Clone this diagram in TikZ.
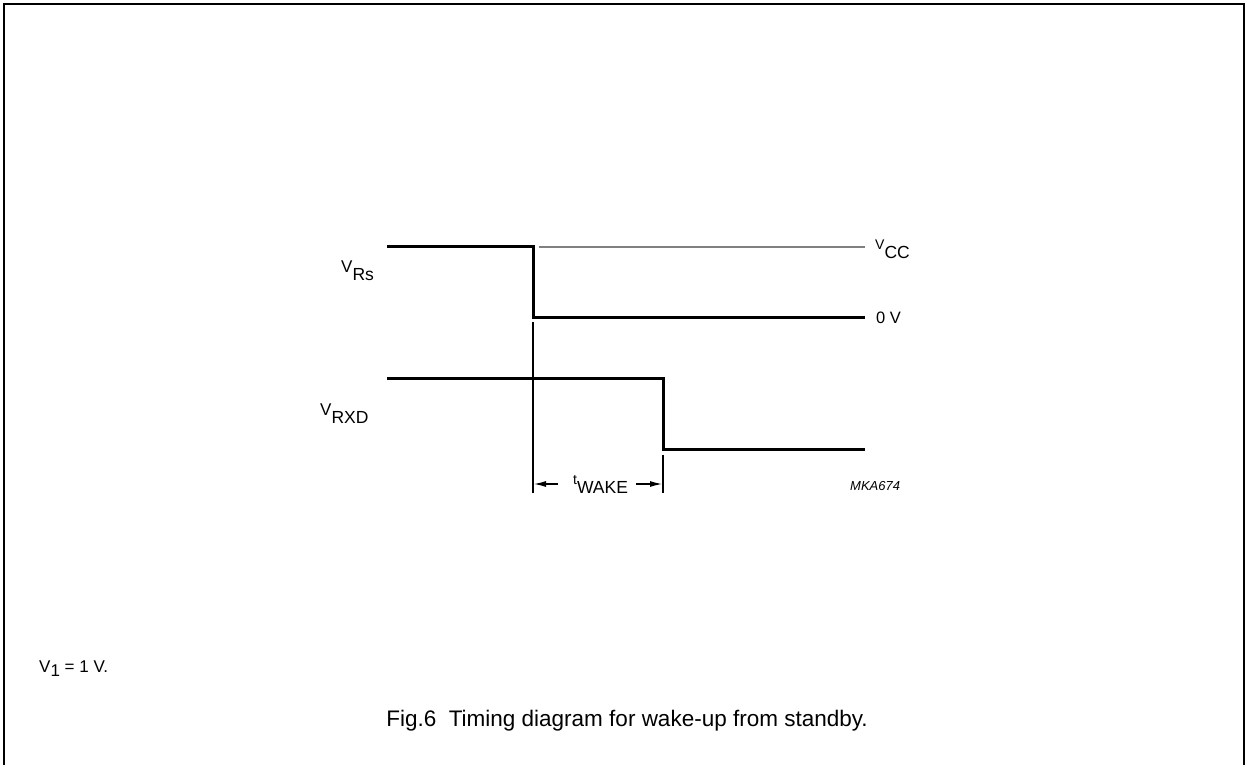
\documentclass[tikz,border=0pt]{standalone}
\usepackage{fontspec}
\setmainfont{Liberation Sans}
\usetikzlibrary{arrows.meta}
\newcommand{\sig}[4]{{\fontsize{#1}{#1}\selectfont #2}\raisebox{-#4}{\fontsize{17.5}{17.5}\selectfont #3}}
\begin{document}
\begin{tikzpicture}[x=1pt,y=-1pt,
  sigl/.style={line width=3pt,line join=miter},
  thin/.style={line width=1.2pt},
  ref/.style={line width=1.5pt,draw=black!50},
  lbl/.style={inner sep=0pt,anchor=base west},
  dim/.style={line width=1.1pt,-{Latex[length=12pt,width=6pt]}}]
\useasboundingbox (0,0) rectangle (1247,765);
\draw[line width=2pt] (4,765) -- (4,4) -- (1244,4) -- (1244,765);
% V_Rs
\coordinate (a0) at (387,246);
\coordinate (a1) at (533,246);
\coordinate (a2) at (533,317);
\coordinate (a3) at (865,317);
\draw[sigl] (a0) -- (a1) -- (a2) -- (a3);
\coordinate (vcc0) at (539,247);
\coordinate (vcc1) at (865,247);
\draw[ref] (vcc0) -- (vcc1);
% V_RXD
\coordinate (b0) at (387,378);
\coordinate (b1) at (663,378);
\coordinate (b2) at (663,449);
\coordinate (b3) at (865,449);
\draw[sigl] (b0) -- (b1) -- (b2) -- (b3);
% markers
\coordinate (m1t) at (533,322);
\coordinate (m1b) at (533,493);
\coordinate (m2t) at (663,455);
\coordinate (m2b) at (663,493);
\draw[thin] (m1t) -- (m1b);
\draw[thin] (m2t) -- (m2b);
% labels
\node[lbl] (vrs) at (341,272) {\sig{17}{V}{Rs}{8pt}};
\node[lbl] (vrxd) at (320,415) {\sig{17}{V}{RXD}{8pt}};
\node[lbl] (vcclbl) at (875,249) {\sig{14}{V}{CC}{9pt}};
\node[lbl,font=\fontsize{16.5}{16.5}\selectfont] (zero) at (876,323) {0 V};
\node[lbl] (tw) at (573,484) {\sig{14}{t}{WAKE}{9pt}};
\node[lbl,font=\fontsize{13}{13}\selectfont\itshape] (mka) at (850,490) {MKA674};
\node[lbl,font=\fontsize{17}{17}\selectfont] (v1) at (39,672) {V\raisebox{-4pt}{1} = 1 V.};
\node[inner sep=0pt,anchor=base,font=\fontsize{22.5}{22.5}\selectfont] (cap) at (627,726) {Fig.6\ \ Timing diagram for wake-up from standby.};
% dimension arrows
\coordinate (d1) at (558,484);
\coordinate (d1e) at (534,484);
\coordinate (d2) at (636,484);
\coordinate (d2e) at (662,484);
\draw[dim] (d1) -- (d1e);
\draw[dim] (d2) -- (d2e);
\end{tikzpicture}
\end{document}
